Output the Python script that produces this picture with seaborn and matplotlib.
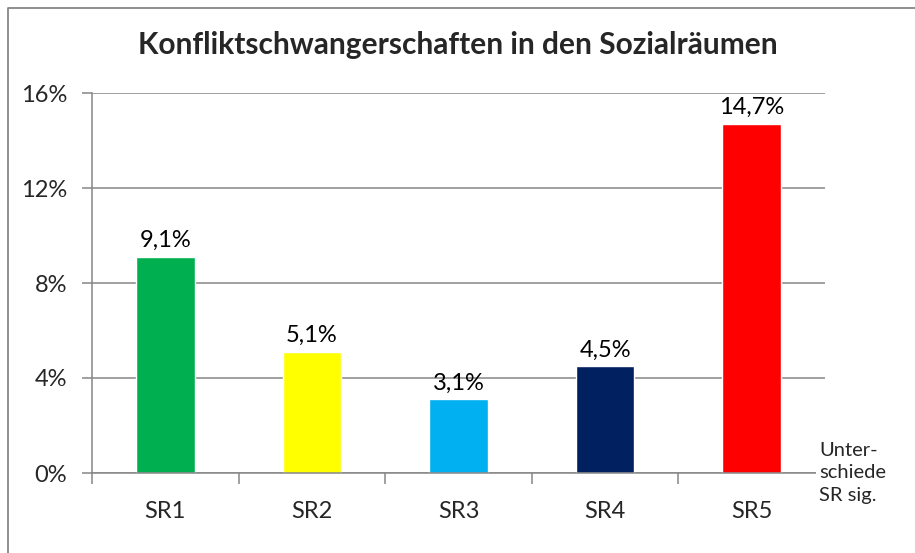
import numpy as np
import pandas as pd
import seaborn as sns
import matplotlib.pyplot as plt
from matplotlib.lines import Line2D
from matplotlib.ticker import FixedLocator

# Daten
regionen = ['SR1', 'SR2', 'SR3', 'SR4', 'SR5']
anteile = [9.1, 5.1, 3.1, 4.5, 14.7]
farben = ['#00B050', '#FFFF00', '#00B0F0', '#002060', '#FF0000']
y_ticks = [0, 4, 8, 12, 16]

datos = pd.DataFrame({'Region': regionen, 'Anteil': anteile})

sns.set_style('white')
plt.rcParams['font.family'] = ['Lato', 'DejaVu Sans']
grau = '#868686'

fig = plt.figure(figsize=(9.15, 5.53), dpi=100)
ax = fig.add_axes([92 / 915, 1 - 473 / 553, (825 - 92) / 915, (473 - 93) / 553])

sns.barplot(data=datos, x='Region', y='Anteil', hue='Region',
            palette=farben, width=0.4, legend=False, ax=ax, saturation=1)

# Werte über den Balken
for cont in ax.containers:
    ax.bar_label(cont, labels=[f'{v:.1f}%'.replace('.', ',') for v in cont.datavalues],
                 padding=4, fontsize=17, color='black')

ax.set_ylim(0, 16)
ax.set_xlim(-0.5, 4.5)
ax.set_yticks(y_ticks)
ax.set_yticklabels([f'{t}%' for t in y_ticks], fontsize=17)
ax.yaxis.grid(True, color=grau, linewidth=1.1)
ax.set_axisbelow(True)
ax.tick_params(axis='y', length=7, color=grau, width=1.1, pad=11, left=True)
ax.tick_params(axis='x', which='major', length=0, pad=20, labelsize=17)
ax.xaxis.set_minor_locator(FixedLocator(np.arange(-0.5, 5, 1)))
ax.tick_params(axis='x', which='minor', length=8, color=grau, width=1.1, bottom=True)
ax.set_xlabel('')
ax.set_ylabel('')

for s in ['top', 'right']:
    ax.spines[s].set_visible(False)
for s in ['left', 'bottom']:
    ax.spines[s].set_color(grau)
    ax.spines[s].set_linewidth(1.1)

fig.text(0.5, 1 - 45 / 553, 'Konfliktschwangerschaften in den Sozialräumen',
         ha='center', va='center', fontsize=21.5, fontweight='bold')

fig.text(819 / 915, 1 - 473 / 553, 'Unter-\nschiede\nSR sig.', ha='left', va='center',
         fontsize=14.5, linespacing=1.38,
         bbox=dict(facecolor='white', edgecolor='none', pad=2))

# Rahmen
fig.add_artist(Line2D([8 / 915, 8 / 915, 1], [0, 1 - 8 / 553, 1 - 8 / 553],
                      transform=fig.transFigure, color=grau, linewidth=1.3))

plt.savefig('out.png', dpi=100)
plt.close()
